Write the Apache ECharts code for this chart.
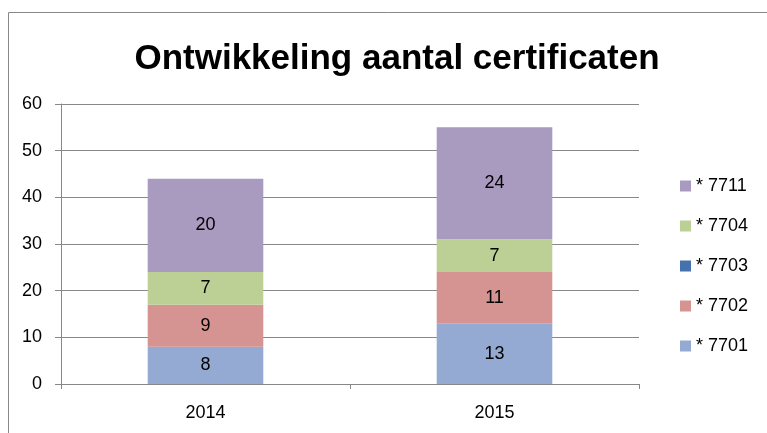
<!DOCTYPE html>
<html>
<head>
<meta charset="utf-8">
<script src="https://cdn.jsdelivr.net/npm/echarts@6/dist/echarts.min.js"></script>
<style>
  html, body { margin: 0; padding: 0; background: #fff; }
  #chart { width: 767px; height: 433px; }
</style>
</head>
<body>
<div id="chart"></div>
<script>
// data
var years = ['2014', '2015']
var s7701 = [8, 13]
var s7702 = [9, 11]
var s7703 = [0, 0]
var s7704 = [7, 7]
var s7711 = [20, 24]
var yTicks = { min: 0, max: 60, interval: 10 }

var font = 'Liberation Sans'
var chart = echarts.init(document.getElementById('chart'))

function mkSeries(name, values, color) {
  return {
    name: name,
    type: 'bar',
    stack: 'total',
    barWidth: '40%',
    data: values,
    itemStyle: { color: color },
    label: {
      show: true,
      position: 'inside',
      color: '#000',
      fontFamily: font,
      fontSize: 18,
      formatter: function (p) { return p.value ? p.value : '' }
    }
  }
}

chart.setOption({
  animation: false,
  title: {
    text: 'Ontwikkeling aantal certificaten',
    left: 392,
    textAlign: 'center',
    top: 37,
    textStyle: { fontFamily: font, fontSize: 35, fontWeight: 'bold', color: '#000' }
  },
  graphic: [{
    type: 'rect',
    shape: { x: 8.5, y: 12.5, width: 800, height: 500 },
    style: { fill: 'none', stroke: '#888', lineWidth: 1 }
  }],
  legend: {
    data: ['* 7711', '* 7704', '* 7703', '* 7702', '* 7701'],
    orient: 'vertical',
    left: 675,
    top: 172,
    itemWidth: 11,
    itemHeight: 11,
    itemGap: 22,
    icon: 'rect',
    textStyle: { fontFamily: font, fontSize: 18, color: '#000' }
  },
  grid: { left: 61, right: 128, top: 104, bottom: 49, containLabel: false },
  xAxis: {
    type: 'category',
    data: years,
    axisLine: { lineStyle: { color: '#888' } },
    axisTick: { show: true, length: 5, lineStyle: { color: '#888' } },
    axisLabel: { color: '#000', fontFamily: font, fontSize: 18, margin: 20 }
  },
  yAxis: {
    type: 'value',
    min: yTicks.min,
    max: yTicks.max,
    interval: yTicks.interval,
    axisLine: { show: true, lineStyle: { color: '#888' } },
    axisTick: { show: true, length: 6, lineStyle: { color: '#888' } },
    splitLine: { lineStyle: { color: '#888' } },
    axisLabel: { color: '#000', fontFamily: font, fontSize: 18, margin: 19 }
  },
  series: [
    mkSeries('* 7701', s7701, '#95AAD2'),
    mkSeries('* 7702', s7702, '#D59391'),
    mkSeries('* 7703', s7703, '#4571AC'),
    mkSeries('* 7704', s7704, '#BCD096'),
    mkSeries('* 7711', s7711, '#A99ABF')
  ]
})
</script>
</body>
</html>
